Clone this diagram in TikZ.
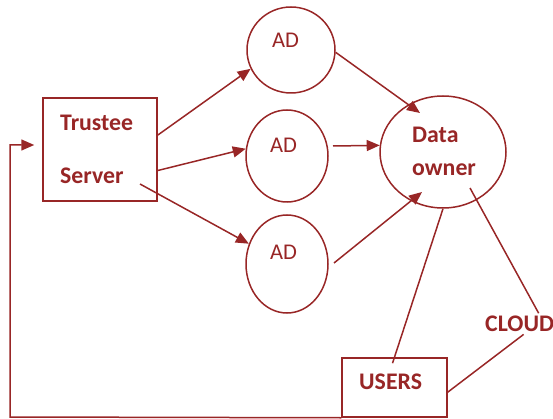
\documentclass[tikz,border=0pt]{standalone}
\usepackage{fontspec}
\setmainfont{Carlito}
\usetikzlibrary{shapes.geometric,arrows.meta,calc}
\definecolor{ink}{RGB}{152,38,38}
\tikzset{
  blockbox/.style={draw=ink, rectangle, inner sep=0pt, line width=1.5pt},
  bubble/.style={draw=ink, ellipse, inner sep=0pt, line width=1.5pt},
  lbl/.style={text=ink, anchor=base west, inner sep=0pt, font=\fontsize{22.5}{26}\selectfont},
  blbl/.style={lbl, font=\fontsize{23.8}{27}\selectfont\bfseries},
  flow/.style={draw=ink, line width=1.5pt, -{Triangle[length=13pt,width=11pt]}},
  link/.style={draw=ink, line width=1.5pt}
}
\begin{document}
\begin{tikzpicture}[x=1pt,y=-1pt]
\useasboundingbox (0,0) rectangle (553,419);

% boxes
\node[blockbox, minimum width=114pt, minimum height=103pt] (trustee) at (100,149.5) {};
\node[blockbox, minimum width=105pt, minimum height=59pt] (users) at (394.5,387.5) {};

% ellipses
\node[bubble, minimum width=88pt, minimum height=86pt] (ad1) at (291,50) {};
\node[bubble, minimum width=82pt, minimum height=92pt] (ad2) at (287,156) {};
\node[bubble, minimum width=82pt, minimum height=98pt] (ad3) at (287,264) {};
\node[bubble, minimum width=126pt, minimum height=112pt] (owner) at (443,152) {};

% labels
\node[blbl] (tTrustee) at (60,131) {Trustee};
\node[blbl] (tServer) at (60,184) {Server};
\node[lbl] (tad1) at (272,48) {AD};
\node[lbl] (tad2) at (270,153) {AD};
\node[lbl] (tad3) at (270,259) {AD};
\node[blbl] (tData) at (412,143) {Data};
\node[blbl] (tOwner) at (412,176) {owner};
\node[blbl] (tUsers) at (359,389) {USERS};
\node[blbl] (cloud) at (485,331) {CLOUD};

% trustee server to the AD nodes
\draw[flow] (trustee.14) -- (ad1.205);
\draw[flow] (trustee.-20) -- (ad2.170);
\draw[flow] ($(trustee.center)+(40,34.5)$) -- (ad3.152);

% AD nodes to the data owner
\draw[flow] (ad1.-3) -- ($(owner.center)+(-23,-39)$);
\draw[flow] ($(ad2.center)+(46,-10)$) -- (owner.174);
\draw[flow] ($(ad3.center)+(47,-1)$) -- ($(owner.center)+(-21,40)$);

% data owner, users and cloud
\draw[link] (owner.south) -- ($(users.north)+(-2,6)$);
\draw[link] ($(owner.center)+(27,36)$) -- ($(cloud.north)+(19,-2)$);
\draw[link] ($(cloud.south)+(4,3)$) -- (users.-5);

% feedback from users back to the trustee server
\coordinate (loop) at (10,417);
\draw[flow] (users.south west) -- (loop) |- ($(trustee.west)+(-8,-4.5)$);
\end{tikzpicture}
\end{document}
